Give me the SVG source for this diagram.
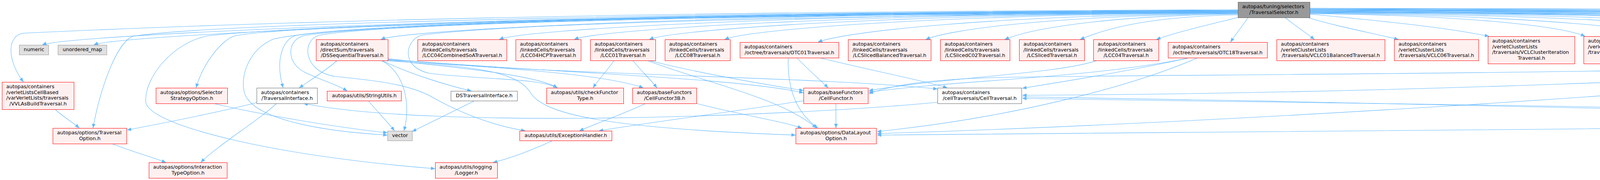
<svg xmlns="http://www.w3.org/2000/svg" width="7708" height="461" viewBox="0 0 7708 461">
<defs>
<marker id="ah" markerUnits="userSpaceOnUse" markerWidth="12" markerHeight="10" refX="11" refY="4.5" orient="auto"><path d="M0,0 L11,4.5 L0,9 z" fill="#63b8ff"/></marker>
<style>
.e{fill:none;stroke:#63b8ff;stroke-width:1.1;marker-end:url(#ah)}
.r rect{fill:#fff0f0;stroke:#ff0000}
.w rect{fill:#ffffff;stroke:#666666}
.g rect{fill:#e0e0e0;stroke:#999999}
.t rect{fill:#999999;stroke:#666666}
text{font-family:"DejaVu Sans","Liberation Sans",sans-serif;font-size:12.8px;fill:#000000}
.m{text-anchor:middle}
</style>
</defs>
<rect x="0" y="0" width="7708" height="461" fill="#ffffff"/>
<g id="connectors">
<path class="e" d="M3169,27 C1332,32 168,90 108,115"/>
<path class="e" d="M3169,28 C1412,33 300,90 240,115"/>
<path class="e" d="M3169,29 C1853,34 1035,76 975,101"/>
<path class="e" d="M3169,30 C2034,35 1338,76 1278,101"/>
<path class="e" d="M3169,31 C2150,36 1530,76 1470,101"/>
<path class="e" d="M3169,32 C2265,37 1722,76 1662,101"/>
<path class="e" d="M3169,33 C2381,38 1915,76 1855,101"/>
<path class="e" d="M3169,34 C2524,39 2154,83 2094,108"/>
<path class="e" d="M3169,35 C2690,40 2430,76 2370,101"/>
<path class="e" d="M3169,36 C2811,41 2632,76 2572,101"/>
<path class="e" d="M3169,38 C2927,43 2825,76 2765,101"/>
<path class="e" d="M3172,44 C3100,62 3020,80 2960,101"/>
<path class="e" d="M3195,45 C3182,65 3165,85 3150,108"/>
<path class="e" d="M3169,25 C2000,28 900,45 60,85 C20,90 15,150 60,210"/>
<path class="e" d="M3169,26 C2000,30 600,55 345,92 C305,98 260,210 238,328"/>
<path class="e" d="M3169,27 C2000,31 750,60 601,92 C570,100 520,160 502,225"/>
<path class="e" d="M3169,28 C2000,32 800,60 531,92 C440,110 370,200 373,260 C376,320 700,400 1114,432"/>
<path class="e" d="M3169,29 C2000,33 900,55 700,100 C640,125 615,190 625,235 C640,300 800,335 992,346"/>
<path class="e" d="M3169,30 C2000,34 1000,55 760,90 C720,100 705,160 725,225"/>
<path class="e" d="M3169,31 C2000,35 1000,57 780,91 C735,100 730,160 780,185 C820,205 860,215 889,233"/>
<path class="e" d="M3169,32 C2000,36 1000,58 820,90 C770,100 775,185 860,196 C960,206 1040,215 1100,245 C1160,280 1250,320 1345,335"/>
<path class="e" d="M3169,33 C2200,37 1300,60 1080,90 C1040,100 1020,170 1100,188 C1250,205 1380,200 1427,225"/>
<path class="e" d="M3290,45 C3315,65 3340,82 3365,101"/>
<path class="e" d="M3348,45 C3420,67 3500,82 3580,101"/>
<path class="e" d="M3353,36 C3550,55 3700,70 3812,93"/>
<path class="e" d="M3353,35 C3776,40 3998,68 4058,93"/>
<path class="e" d="M3353,34 C3930,39 4255,76 4315,101"/>
<path class="e" d="M3353,33 C4098,38 4534,76 4594,101"/>
<path class="e" d="M3353,32 C4247,37 4783,76 4843,101"/>
<path class="e" d="M3353,31 C4357,36 4966,68 5026,93"/>
<path class="e" d="M3353,30 C4485,35 5180,68 5240,93"/>
<path class="e" d="M3353,29 C4661,34 5473,68 5533,93"/>
<path class="e" d="M3353,28 C4792,33 5692,68 5752,93"/>
<path class="e" d="M3353,27 C4924,32 5911,68 5971,93"/>
<path class="e" d="M3353,26 C5085,31 6180,68 6240,93"/>
<path class="e" d="M3353,25 C5232,30 6425,68 6485,93"/>
<path class="e" d="M3353,24 C5364,29 6645,68 6705,93"/>
<path class="e" d="M3353,23 C5500,27 6800,62 6905,86 C6945,95 6980,103 6996,115"/>
<path class="e" d="M3353,22 C5655,27 7130,68 7190,93"/>
<path class="e" d="M3353,21 C5800,24 7300,50 7440,78 C7500,90 7545,100 7568,115"/>
<path class="e" d="M3353,30 C4800,38 6100,62 6170,90 C6215,110 6205,185 6310,211"/>
<path class="e" d="M3353,26 C5500,33 7300,55 7385,88 C7419,101 7410,170 7363,225"/>
<path class="e" d="M3353,25 C5600,32 7350,58 7420,92 C7495,126 7490,285 7371,338"/>
<path class="e" d="M3353,31 C4700,40 5400,62 5464,90 C5490,110 5495,140 5475,165 C5420,240 5280,335 5120,343 C4980,350 4880,310 4700,290 C4300,272 3200,262 2617,252"/>
<path class="e" d="M141,280 C160,298 185,312 203,328"/>
<path class="e" d="M660,262 C550,290 420,315 325,333"/>
<path class="e" d="M708,265 C660,310 560,370 514,416"/>
<path class="e" d="M2400,262 C2000,300 1100,330 777,265"/>
<path class="e" d="M286,368 C330,385 380,400 425,416"/>
<path class="e" d="M547,265 C650,290 850,325 992,340"/>
<path class="e" d="M863,155 C835,180 795,205 766,225"/>
<path class="e" d="M976,155 C1030,180 1055,260 1034,335"/>
<path class="e" d="M980,156 C1050,190 1150,220 1207,233"/>
<path class="e" d="M993,150 C1300,190 2100,195 2400,228"/>
<path class="e" d="M993,152 C1400,185 1900,200 2057,238"/>
<path class="e" d="M993,153 C1300,175 1550,190 1647,225"/>
<path class="e" d="M993,154 C1200,175 1380,195 1427,225"/>
<path class="e" d="M990,156 C1250,170 1330,190 1360,240 C1400,300 1600,330 2037,346"/>
<path class="e" d="M943,258 C965,285 990,310 1010,335"/>
<path class="e" d="M1215,258 C1150,290 1090,320 1055,337"/>
<path class="e" d="M1413,361 C1360,385 1310,405 1262,416"/>
<path class="e" d="M1572,155 C1555,180 1535,200 1518,225"/>
<path class="e" d="M1620,155 C1640,180 1662,200 1682,225"/>
<path class="e" d="M1662,155 C1800,190 1950,215 2057,232"/>
<path class="e" d="M1660,156 C1800,210 2000,250 2090,328"/>
<path class="e" d="M1653,265 C1600,290 1530,315 1483,335"/>
<path class="e" d="M1783,265 C1900,295 2000,310 2053,328"/>
<path class="e" d="M2057,258 C1850,290 1650,315 1533,335"/>
<path class="e" d="M2140,265 L2140,328"/>
<path class="e" d="M2040,148 C2065,175 2095,200 2120,225"/>
<path class="e" d="M2018,148 C2015,230 2040,290 2094,328"/>
<path class="e" d="M2098,148 C2250,185 2380,210 2425,225"/>
<path class="e" d="M2809,155 C2700,190 2450,195 2224,232"/>
<path class="e" d="M3045,148 C2800,200 2450,205 2224,236"/>
<path class="e" d="M3041,149 C2900,180 2750,205 2617,226"/>
<path class="e" d="M3066,148 C2900,220 2600,300 2245,337"/>
<path class="e" d="M4847,155 C4500,190 3000,190 2570,198 C2400,202 2290,215 2224,240"/>
<path class="e" d="M5022,160 C4600,200 3500,240 2617,244"/>
<path class="e" d="M5024,162 C4400,240 3000,320 2245,342"/>
<path class="e" d="M7186,160 C7000,185 6700,210 6525,233"/>
<path class="e" d="M7188,162 C7000,250 6650,295 6400,300 C5500,315 3500,338 2245,346"/>
<path class="e" d="M7341,265 L7341,335"/>
<path class="e" d="M2617,248 C3500,262 4500,285 5130,300 C6000,318 6800,335 7313,346"/>
</g>
<g id="n_traversalselector" class="t"><rect x="3169.5" y="5.5" width="184" height="40"/><text x="3180" y="21">autopas/tuning/selectors</text><text class="m" x="3261" y="35.5">/TraversalSelector.h</text></g>
<g id="n_numeric" class="g"><rect x="49.5" y="115.5" width="75" height="25"/><text class="m" x="87" y="131">numeric</text></g>
<g id="n_unordered_map" class="g"><rect x="148.5" y="115.5" width="125" height="25"/><text class="m" x="211" y="131">unordered_map</text></g>
<g id="n_vvlas" class="r"><rect x="5.5" y="210.5" width="184" height="70"/><text x="16" y="226">autopas/containers</text><text x="16" y="240.5">/verletListsCellBased</text><text x="16" y="255">/varVerletLists/traversals</text><text class="m" x="97.5" y="269.5">/VVLAsBuildTraversal.h</text></g>
<g id="n_selstrat" class="r"><rect x="399.5" y="225.5" width="183" height="40"/><text x="410" y="241">autopas/options/Selector</text><text class="m" x="491" y="255.5">StrategyOption.h</text></g>
<g id="n_travopt" class="r"><rect x="135.5" y="328.5" width="189" height="40"/><text x="146" y="344">autopas/options/Traversal</text><text class="m" x="230" y="358.5">Option.h</text></g>
<g id="n_intertype" class="r"><rect x="381.5" y="416.5" width="200" height="40"/><text x="392" y="432">autopas/options/Interaction</text><text class="m" x="481.5" y="446.5">TypeOption.h</text></g>
<g id="n_dsseq" class="r"><rect x="809.5" y="101.5" width="184" height="54"/><text x="820" y="117">autopas/containers</text><text x="820" y="131.5">/directSum/traversals</text><text class="m" x="901.5" y="146">/DSSequentialTraversal.h</text></g>
<g id="n_lcc04comb" class="r"><rect x="1069.5" y="101.5" width="228" height="54"/><text x="1080" y="117">autopas/containers</text><text x="1080" y="131.5">/linkedCells/traversals</text><text class="m" x="1183.5" y="146">/LCC04CombinedSoATraversal.h</text></g>
<g id="n_travif" class="w"><rect x="657.5" y="225.5" width="155" height="40"/><text x="668" y="241">autopas/containers</text><text class="m" x="735" y="255.5">/TraversalInterface.h</text></g>
<g id="n_strutils" class="r"><rect x="837.5" y="233.5" width="190" height="25"/><text class="m" x="932.5" y="249">autopas/utils/StringUtils.h</text></g>
<g id="n_dsti" class="w"><rect x="1154.5" y="233.5" width="170" height="25"/><text class="m" x="1239.5" y="249">DSTraversalInterface.h</text></g>
<g id="n_vector" class="g"><rect x="992.5" y="335.5" width="63" height="25"/><text class="m" x="1024" y="351">vector</text></g>
<g id="n_logger" class="r"><rect x="1114.5" y="416.5" width="159" height="40"/><text x="1125" y="432">autopas/utils/logging</text><text class="m" x="1194" y="446.5">/Logger.h</text></g>
<g id="n_lcc04hcp" class="r"><rect x="1320.5" y="101.5" width="167" height="54"/><text x="1331" y="117">autopas/containers</text><text x="1331" y="131.5">/linkedCells/traversals</text><text class="m" x="1404" y="146">/LCC04HCPTraversal.h</text></g>
<g id="n_lcc01" class="r"><rect x="1511.5" y="101.5" width="167" height="54"/><text x="1522" y="117">autopas/containers</text><text x="1522" y="131.5">/linkedCells/traversals</text><text class="m" x="1595" y="146">/LCC01Traversal.h</text></g>
<g id="n_lcc08" class="r"><rect x="1702.5" y="101.5" width="167" height="54"/><text x="1713" y="117">autopas/containers</text><text x="1713" y="131.5">/linkedCells/traversals</text><text class="m" x="1786" y="146">/LCC08Traversal.h</text></g>
<g id="n_otc01" class="r"><rect x="1894.5" y="108.5" width="253" height="40"/><text x="1905" y="124">autopas/containers</text><text class="m" x="2021" y="138.5">/octree/traversals/OTC01Traversal.h</text></g>
<g id="n_checkft" class="r"><rect x="1399.5" y="225.5" width="197" height="40"/><text x="1410" y="241">autopas/utils/checkFunctor</text><text class="m" x="1498" y="255.5">Type.h</text></g>
<g id="n_cf3b" class="r"><rect x="1619.5" y="225.5" width="164" height="40"/><text x="1630" y="241">autopas/baseFunctors</text><text class="m" x="1701.5" y="255.5">/CellFunctor3B.h</text></g>
<g id="n_exch" class="r"><rect x="1330.5" y="335.5" width="236" height="25"/><text class="m" x="1448.5" y="351">autopas/utils/ExceptionHandler.h</text></g>
<g id="n_lcslicedbal" class="r"><rect x="2171.5" y="101.5" width="212" height="54"/><text x="2182" y="117">autopas/containers</text><text x="2182" y="131.5">/linkedCells/traversals</text><text class="m" x="2277.5" y="146">/LCSlicedBalancedTraversal.h</text></g>
<g id="n_lcslicedc02" class="r"><rect x="2407.5" y="101.5" width="178" height="54"/><text x="2418" y="117">autopas/containers</text><text x="2418" y="131.5">/linkedCells/traversals</text><text class="m" x="2496.5" y="146">/LCSlicedC02Traversal.h</text></g>
<g id="n_cellfunctor" class="r"><rect x="2057.5" y="225.5" width="165" height="40"/><text x="2068" y="241">autopas/baseFunctors</text><text class="m" x="2140" y="255.5">/CellFunctor.h</text></g>
<g id="n_celltrav" class="w"><rect x="2400.5" y="225.5" width="215" height="40"/><text x="2411" y="241">autopas/containers</text><text class="m" x="2508" y="255.5">/cellTraversals/CellTraversal.h</text></g>
<g id="n_datalayout" class="r"><rect x="2037.5" y="328.5" width="206" height="40"/><text x="2048" y="344">autopas/options/DataLayout</text><text class="m" x="2140.5" y="358.5">Option.h</text></g>
<g id="n_lcsliced" class="r"><rect x="2609.5" y="101.5" width="167" height="54"/><text x="2620" y="117">autopas/containers</text><text x="2620" y="131.5">/linkedCells/traversals</text><text class="m" x="2693" y="146">/LCSlicedTraversal.h</text></g>
<g id="n_lcc04" class="r"><rect x="2799.5" y="101.5" width="167" height="54"/><text x="2810" y="117">autopas/containers</text><text x="2810" y="131.5">/linkedCells/traversals</text><text class="m" x="2883" y="146">/LCC04Traversal.h</text></g>
<g id="n_otc18" class="r"><rect x="2990.5" y="108.5" width="254" height="40"/><text x="3001" y="124">autopas/containers</text><text class="m" x="3117.5" y="138.5">/octree/traversals/OTC18Traversal.h</text></g>
<g id="n_vclc01bal" class="r"><rect x="3268.5" y="101.5" width="277" height="54"/><text x="3279" y="117">autopas/containers</text><text x="3279" y="131.5">/verletClusterLists</text><text class="m" x="3407" y="146">/traversals/VCLC01BalancedTraversal.h</text></g>
<g id="n_vclc06" class="r"><rect x="3569.5" y="101.5" width="216" height="54"/><text x="3580" y="117">autopas/containers</text><text x="3580" y="131.5">/verletClusterLists</text><text class="m" x="3677.5" y="146">/traversals/VCLC06Traversal.h</text></g>
<g id="n_vclclusteriter" class="r"><rect x="3809.5" y="93.5" width="222" height="70"/><text x="3820" y="109">autopas/containers</text><text x="3820" y="123.5">/verletClusterLists</text><text x="3820" y="138">/traversals/VCLClusterIteration</text><text class="m" x="3920.5" y="152.5">Traversal.h</text></g>
<g id="n_vclslicedbal" class="r"><rect x="4054.5" y="93.5" width="220" height="70"/><text x="4065" y="109">autopas/containers</text><text x="4065" y="123.5">/verletClusterLists</text><text x="4065" y="138">/traversals/VCLSlicedBalanced</text><text class="m" x="4164.5" y="152.5">Traversal.h</text></g>
<g id="n_vclslicedc02" class="r"><rect x="4298.5" y="101.5" width="255" height="54"/><text x="4309" y="117">autopas/containers</text><text x="4309" y="131.5">/verletClusterLists</text><text class="m" x="4426" y="146">/traversals/VCLSlicedC02Traversal.h</text></g>
<g id="n_vclsliced" class="r"><rect x="4577.5" y="101.5" width="231" height="54"/><text x="4588" y="117">autopas/containers</text><text x="4588" y="131.5">/verletClusterLists</text><text class="m" x="4693" y="146">/traversals/VCLSlicedTraversal.h</text></g>
<g id="n_lcc18" class="r"><rect x="4831.5" y="101.5" width="167" height="54"/><text x="4842" y="117">autopas/containers</text><text x="4842" y="131.5">/linkedCells/traversals</text><text class="m" x="4915" y="146">/LCC18Traversal.h</text></g>
<g id="n_vllistiter" class="r"><rect x="5022.5" y="93.5" width="190" height="70"/><text x="5033" y="109">autopas/containers</text><text x="5033" y="123.5">/verletListsCellBased</text><text x="5033" y="138">/verletLists/traversals</text><text class="m" x="5117.5" y="152.5">/VLListIterationTraversal.h</text></g>
<g id="n_vlcallcells" class="r"><rect x="5236.5" y="93.5" width="218" height="70"/><text x="5247" y="109">autopas/containers</text><text x="5247" y="123.5">/verletListsCellBased</text><text x="5247" y="138">/verletListsCells/neighborLists</text><text class="m" x="5345.5" y="152.5">/VLCAllCellsNeighborList.h</text></g>
<g id="n_vlcc01" class="r"><rect x="5529.5" y="93.5" width="195" height="70"/><text x="5540" y="109">autopas/containers</text><text x="5540" y="123.5">/verletListsCellBased</text><text x="5540" y="138">/verletListsCells/traversals</text><text class="m" x="5627" y="152.5">/VLCC01Traversal.h</text></g>
<g id="n_vlcc08" class="r"><rect x="5748.5" y="93.5" width="194" height="70"/><text x="5759" y="109">autopas/containers</text><text x="5759" y="123.5">/verletListsCellBased</text><text x="5759" y="138">/verletListsCells/traversals</text><text class="m" x="5845.5" y="152.5">/VLCC08Traversal.h</text></g>
<g id="n_vlcc18" class="r"><rect x="5967.5" y="93.5" width="194" height="70"/><text x="5978" y="109">autopas/containers</text><text x="5978" y="123.5">/verletListsCellBased</text><text x="5978" y="138">/verletListsCells/traversals</text><text class="m" x="6064.5" y="152.5">/VLCC18Traversal.h</text></g>
<g id="n_vlcslicedbal" class="r"><rect x="6236.5" y="93.5" width="221" height="70"/><text x="6247" y="109">autopas/containers</text><text x="6247" y="123.5">/verletListsCellBased</text><text x="6247" y="138">/verletListsCells/traversals</text><text class="m" x="6347" y="152.5">/VLCSlicedBalancedTraversal.h</text></g>
<g id="n_vlccpnl" class="r"><rect x="6306.5" y="211.5" width="217" height="69"/><text x="6317" y="227">autopas/containers</text><text x="6317" y="241.5">/verletListsCellBased</text><text x="6317" y="256">/verletListsCells/neighborLists</text><text class="m" x="6415" y="270.5">/VLCCellPairNeighborList.h</text></g>
<g id="n_vlcslicedc02" class="r"><rect x="6481.5" y="93.5" width="195" height="70"/><text x="6492" y="109">autopas/containers</text><text x="6492" y="123.5">/verletListsCellBased</text><text x="6492" y="138">/verletListsCells/traversals</text><text class="m" x="6579" y="152.5">/VLCSlicedC02Traversal.h</text></g>
<g id="n_vlcsliced" class="r"><rect x="6700.5" y="93.5" width="195" height="70"/><text x="6711" y="109">autopas/containers</text><text x="6711" y="123.5">/verletListsCellBased</text><text x="6711" y="138">/verletListsCells/traversals</text><text class="m" x="6798" y="152.5">/VLCSlicedTraversal.h</text></g>
<g id="n_newton3" class="r"><rect x="6918.5" y="115.5" width="243" height="25"/><text class="m" x="7040" y="131">autopas/options/Newton3Option.h</text></g>
<g id="n_vlccpc08" class="r"><rect x="7186.5" y="93.5" width="196" height="70"/><text x="7197" y="109">autopas/containers</text><text x="7197" y="123.5">/verletListsCellBased</text><text x="7197" y="138">/verletListsCells/traversals</text><text class="m" x="7284.5" y="152.5">/VLCCellPairC08Traversal.h</text></g>
<g id="n_tsi" class="w"><rect x="7250.5" y="225.5" width="183" height="40"/><text x="7261" y="241">autopas/tuning/selectors</text><text class="m" x="7342" y="255.5">/TraversalSelectorInfo.h</text></g>
<g id="n_array" class="g"><rect x="7313.5" y="335.5" width="56" height="25"/><text class="m" x="7341.5" y="351">array</text></g>
<g id="n_trivialhash" class="r"><rect x="7508.5" y="115.5" width="195" height="25"/><text class="m" x="7606" y="131">autopas/utils/TrivialHash.h</text></g>
</svg>
